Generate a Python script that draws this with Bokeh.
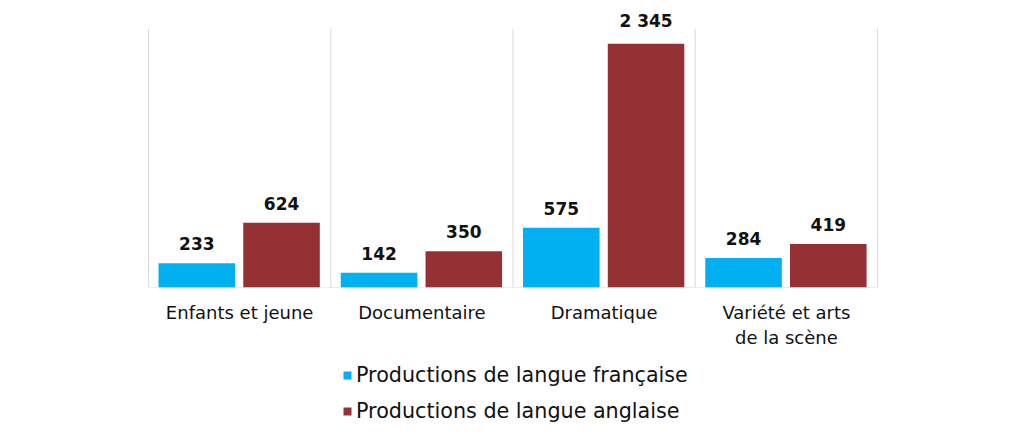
import numpy as np
from bokeh.plotting import figure
from bokeh.layouts import column
from bokeh.models import Range1d, FixedTicker, ColumnDataSource, Legend, LegendItem
from bokeh.core.properties import value
from bokeh.embed import file_html
from bokeh.resources import INLINE

categories = ["Enfants et jeune", "Documentaire", "Dramatique", "Variété et arts\nde la scène"]
series_names = ["Productions de langue française", "Productions de langue anglaise"]
francaise = [233, 142, 575, 284]
anglaise = [624, 350, 2345, 419]
colors = ["#00B0F0", "#953035"]
grid_top = 2490

FONT = "DejaVu Sans"
GRID = "#D9D9D9"

n = len(categories)
pad = 0.0439
p = figure(width=1016, height=352, output_backend="svg", toolbar_location=None,
           x_range=Range1d(-pad, n + pad), y_range=Range1d(0, 2685),
           min_border_left=140, min_border_right=131, min_border_top=8, min_border_bottom=65)
p.outline_line_color = None
p.background_fill_color = "white"
p.border_fill_color = "white"
p.yaxis.visible = False
p.grid.visible = False

idx = np.arange(n)
p.xaxis.ticker = FixedTicker(ticks=list(idx + 0.5))
p.xaxis.major_label_overrides = {float(i + 0.5): c for i, c in enumerate(categories)}
p.xaxis.major_tick_line_color = None
p.xaxis.minor_tick_line_color = None
p.xaxis.axis_line_color = None
p.xaxis.major_label_text_font = FONT
p.xaxis.major_label_text_font_size = "18px"
p.xaxis.major_label_text_color = "#111111"
p.xaxis.major_label_standoff = 8

# category separators and baseline
bounds = np.arange(n + 1)
p.segment(x0=bounds, y0=0, x1=bounds, y1=grid_top, line_color=GRID, line_width=1)
p.segment(x0=[0], y0=[0], x1=[n], y1=[0], line_color=GRID, line_width=1)

offsets = [0.265, 0.73]
width = 0.42
for k, vals in enumerate([francaise, anglaise]):
    src = ColumnDataSource(dict(x=idx + offsets[k], top=vals,
                                lab=[f"{v:,}".replace(",", " ") for v in vals]))
    p.vbar(x="x", top="top", width=width, bottom=0, source=src,
           fill_color=colors[k], line_color=None)
    p.text(x="x", y="top", text="lab", source=src, text_align="center",
           text_baseline="bottom", y_offset=-13, text_font=value(FONT),
           text_font_style="bold", text_font_size="17px", text_color="#111111")

# legend in its own strip below the chart (frame aligned with the chart's frame)
lf = figure(width=1016, height=80, output_backend="svg", toolbar_location=None,
            x_range=Range1d(0, 1), y_range=Range1d(0, 1),
            min_border_left=140, min_border_right=131, min_border_top=0, min_border_bottom=0)
lf.axis.visible = False
lf.grid.visible = False
lf.outline_line_color = None
items = []
for k, name in enumerate(series_names):
    # legend swatch only: the single bar lies outside the visible range
    r = lf.vbar(x=[-5], top=[-5], bottom=-6, width=0.1,
                fill_color=colors[k], line_color=None)
    items.append(LegendItem(label=name, renderers=[r]))
legend = Legend(items=items, location=(202, 9), orientation="vertical",
                border_line_color=None, background_fill_alpha=0,
                label_text_font=FONT, label_text_font_size="20.7px",
                label_text_color="#111111", glyph_width=10, glyph_height=10,
                label_standoff=4, label_height=24, spacing=12, padding=0, margin=0)
lf.add_layout(legend, "center")

layout = column(p, lf, spacing=0)
open("out.html", "w").write(file_html(layout, INLINE))
